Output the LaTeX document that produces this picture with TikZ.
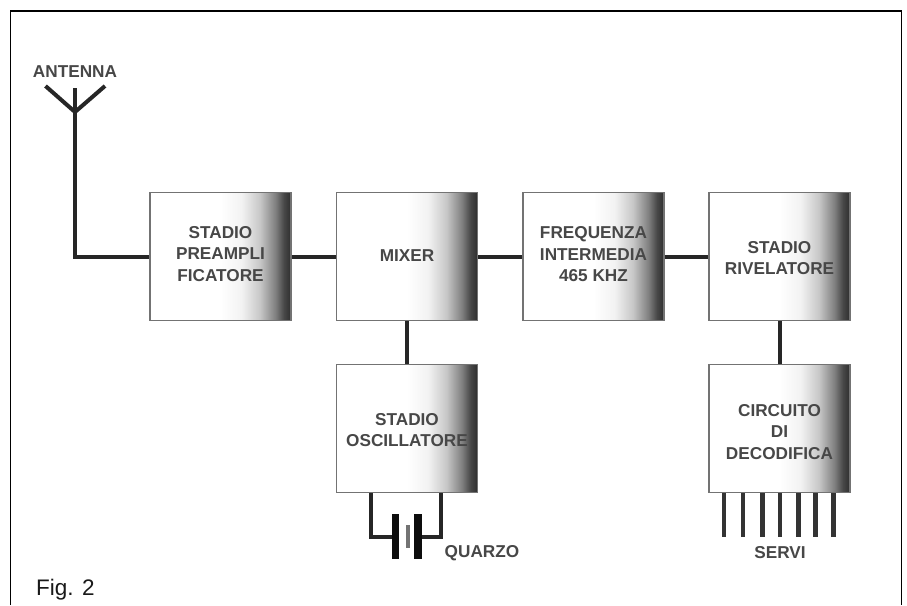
\documentclass[tikz,border=0pt]{standalone}
\usepackage{fontspec}
\setmainfont{Liberation Sans}
\tikzset{
  x=1pt,y=-1pt,
  wire/.style={line width=4pt,color=black!85,line cap=butt,line join=miter},
  pin/.style={line width=4.6pt,color=black!80,line cap=butt},
  blockbox/.style={draw=black!55,line width=1.7pt,minimum width=141pt,minimum height=128pt,inner sep=0pt},
  blocktext/.style={inner sep=0pt,align=center,font=\bfseries\fontsize{17.2}{21.5}\selectfont,text=black!72},
  lbl/.style={inner sep=0pt,font=\bfseries\fontsize{17.2}{20}\selectfont,text=black!72},
}
\pgfdeclarehorizontalshading{boxshade}{100bp}{color(0bp)=(white);color(25bp)=(white);color(50bp)=(white);color(57.5bp)=(black!5);color(64bp)=(black!22);color(69.5bp)=(black!50);color(72.5bp)=(black!72);color(75bp)=(black!82);color(100bp)=(black!82)}
\begin{document}
\begin{tikzpicture}
\useasboundingbox (0,0) rectangle (907,605);
\fill[white] (0,0) rectangle (907,605);
\draw[line width=1.5pt,black] (10.5,605) -- (10.5,11) -- (901.5,11) -- (901.5,605);
\foreach \n/\x/\y/\o/\t in {a/220.5/256.5/-2.5/{STADIO\\PREAMPLI\\FICATORE},b/407/256.5/-1/{MIXER},c/593.5/256.5/-2/{FREQUENZA\\INTERMEDIA\\465 KHZ},d/779.5/256.5/1.5/{STADIO\\RIVELATORE},e/407/428.5/1.5/{STADIO\\OSCILLATORE},f/779.5/428.5/3.5/{CIRCUITO\\DI\\DECODIFICA}}{
  \path[shading=boxshade] (\x-70.5,\y-64) rectangle (\x+70.5,\y+64);
  \node[blockbox] (\n) at (\x,\y) {};
  \node[blocktext] (\n t) at (\x,\y+\o) {\t};
}
\node[lbl] (ant) at (75,72) {ANTENNA};
\coordinate (tip) at (75,112);
\coordinate (al) at (45.5,86);
\coordinate (ar) at (105,86);
\coordinate (am) at (75,88);
\draw[wire] (al) -- (tip) -- (ar);
\draw[wire] (am) -- (tip);
\draw[wire] (tip) |- (a.west);
\draw[wire] (a.east) -- (b.west);
\draw[wire] (b.east) -- (c.west);
\draw[wire] (c.east) -- (d.west);
\draw[wire] (b.south) -- (e.north);
\draw[wire] (d.south) -- (f.north);
% quartz
\coordinate (q1) at ([xshift=-36pt]e.south);
\coordinate (q2) at ([xshift=34pt]e.south);
\coordinate (pl) at (395.5,537);
\coordinate (pr) at (418,537);
\draw[wire] (q1) |- (pl);
\draw[wire] (q2) |- (pr);
\draw[line width=7.5pt,black!95] (395.5,514) -- (395.5,559);
\draw[line width=7.5pt,black!95] (418,514) -- (418,559);
\draw[line width=4pt,black!55] (407.5,525) -- (407.5,548);
\node[lbl] (quarzo) at (482,553) {QUARZO};
% servi
\foreach \i/\dx in {1/-55.5,2/-36.5,3/-17.2,4/0.5,5/18.8,6/36.2,7/54.2}{
  \coordinate (s\i) at ([xshift=\dx pt]f.south);
  \draw[pin] (s\i) -- ++(0,44);
}
\node[lbl] (servi) at (780,553) {SERVI};
\node[inner sep=0pt,anchor=base west,font=\fontsize{22.5}{24}\selectfont,text=black!90] (fig) at (36,595) {Fig. 2};
\end{tikzpicture}
\end{document}
